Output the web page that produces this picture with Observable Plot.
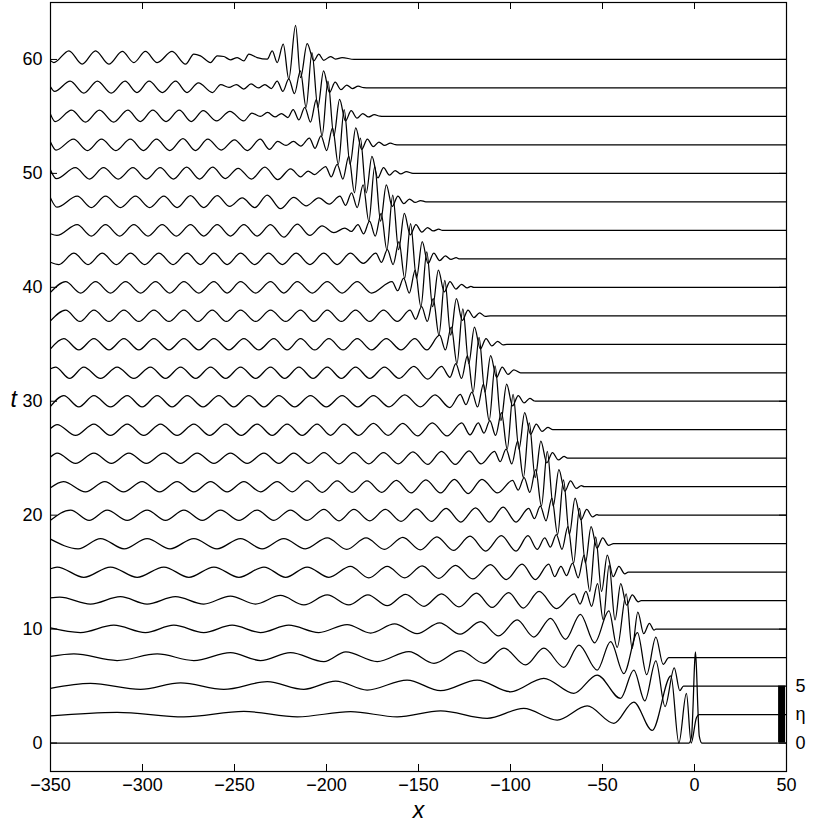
<!DOCTYPE html>
<html><head><meta charset="utf-8">
<script src="https://cdn.jsdelivr.net/npm/d3@7"></script>
<script src="https://cdn.jsdelivr.net/npm/@observablehq/plot@0.6"></script>
<style>body{margin:0;background:#fff}</style>
</head><body><div id="chart"></div>
<script>
// times of the snapshots
const times = [0,2.5,5,7.5,10,12.5,15,17.5,20,22.5,25,27.5,30,32.5,35,37.5,40,42.5,45,47.5,50,52.5,55,57.5,60];
// surface elevation eta(x): [x, eta] at extrema
const eta_t0 = [[-350,0],[-3,0],[-1.6,0.6],[-0.8,3.2],[0,6.8],[0.5,8],[1,6.8],[1.8,3.2],[2.6,0.6],[4,0],[50,0]];
const eta_t2_5 = [[-350,-0.12],[-313.8,0.2],[-277.5,-0.2],[-244.9,0.27],[-215.9,-0.2],[-186.9,0.25],[-161.6,-0.2],[-138,0.33],[-112.7,-0.33],[-92.8,0.54],[-74.6,-0.48],[-58.3,0.75],[-43.8,-0.77],[-33,1.1],[-23,-1.4],[-12.8,3.4],[-8.5,-2.5],[-4.4,1.85],[-1.8,-2.5],[1,-0.3],[2.5,0],[50,0]];
const eta_t5 = [[-350,-0.2],[-328.3,0.24],[-301.1,-0.29],[-279.3,0.29],[-255.8,-0.29],[-232.2,0.38],[-212.3,-0.29],[-195,0.44],[-177.9,-0.35],[-156.2,0.53],[-138,-0.41],[-118.1,0.53],[-100,-0.5],[-81.9,0.68],[-65.6,-0.64],[-52.9,0.97],[-40.2,-1.08],[-33,1.4],[-27,-1.3],[-21,2.2],[-16,-1.8],[-11,1.6],[-8,-0.4],[-6,0],[50,0]];
const eta_t7_5 = [[-350,0.1],[-337.3,0.32],[-313.8,-0.26],[-292,0.32],[-272.1,-0.26],[-252.2,0.44],[-235.9,-0.26],[-219.6,0.44],[-201.4,-0.35],[-189.5,0.5],[-172.4,-0.35],[-155.2,0.53],[-141.6,-0.5],[-127.1,0.62],[-114.5,-0.5],[-103.6,0.82],[-91.8,-0.65],[-81.9,0.82],[-71,-0.85],[-62.8,1.1],[-52.9,-1.1],[-45.6,1.4],[-38.4,-1.4],[-31,2.2],[-26,-1.5],[-21,1.8],[-17,-0.6],[-14,0],[50,0]];
const eta_t10 = [[-350,0.1],[-333.7,-0.3],[-315.6,0.35],[-298.4,-0.3],[-283,0.35],[-266.7,-0.3],[-251.3,0.35],[-235.9,-0.3],[-220.5,0.35],[-204.2,-0.3],[-188.8,0.4],[-176,-0.35],[-163,0.45],[-150.8,-0.4],[-138.5,0.55],[-127.4,-0.45],[-116.3,0.65],[-106.4,-0.6],[-96.4,0.8],[-87.3,-0.7],[-78.2,0.95],[-70.1,-0.9],[-62,1.3],[-54.3,-1.2],[-46.5,1.6],[-42,-1.6],[-37.1,3.1],[-33.9,-1.7],[-30.8,1.5],[-27.6,-0.4],[-24.5,0.5],[-22,-0.1],[-21,0],[50,0]];
const eta_t12_5 = [[-350,0.25],[-345,0.3],[-328.3,-0.3],[-312,0.35],[-297.5,-0.3],[-282.1,0.35],[-266.7,-0.3],[-252.2,0.4],[-238.6,-0.3],[-225,0.45],[-212.3,-0.38],[-199.6,0.5],[-187.9,-0.38],[-177.5,0.5],[-167,-0.45],[-157,0.55],[-147,-0.5],[-137.5,0.6],[-128,-0.55],[-118.5,0.65],[-110,-0.6],[-101,0.7],[-93,-0.65],[-84.5,0.8],[-75,-0.7],[-65.3,0.6],[-62.2,-0.3],[-59,0.8],[-55.9,-0.5],[-52.7,1.5],[-49.6,-1.7],[-46.4,3.1],[-43.2,-1.7],[-40.1,1.5],[-36.9,-0.4],[-33.8,0.5],[-30.6,-0.1],[-29,0],[50,0]];
const eta_t15 = [[-350,0.3],[-346.4,0.45],[-331.9,-0.45],[-317.4,0.45],[-302.9,-0.45],[-288.4,0.45],[-274.8,-0.45],[-261.2,0.45],[-247.6,-0.45],[-234,0.45],[-222.2,-0.45],[-210.5,0.45],[-198.7,-0.45],[-187,0.5],[-177,-0.5],[-167,0.5],[-157.5,-0.5],[-148,0.55],[-139,-0.55],[-129.9,0.6],[-120.5,-0.6],[-110.9,0.65],[-102.3,-0.65],[-93.7,0.7],[-86.5,-0.65],[-79.2,0.7],[-76,-0.4],[-72.6,0.5],[-69.5,-0.3],[-66.3,0.8],[-63.2,-0.5],[-60,1.5],[-56.9,-1.7],[-53.7,3.1],[-50.5,-1.7],[-47.4,1.5],[-44.2,-0.4],[-41.1,0.5],[-37.9,-0.15],[-36,0],[50,0]];
const eta_t17_5 = [[-350,0.4],[-335,-0.45],[-322.8,0.45],[-310,-0.45],[-297.5,0.45],[-285,-0.45],[-272.1,0.45],[-259.5,-0.45],[-246.7,0.45],[-235,-0.45],[-223.2,0.45],[-211.5,-0.45],[-199.6,0.5],[-189,-0.5],[-178.5,0.5],[-168.5,-0.5],[-158.5,0.55],[-149,-0.55],[-140,0.6],[-131,-0.6],[-122,0.65],[-113.5,-0.65],[-105,0.7],[-97,-0.65],[-90.5,0.7],[-85.5,-0.5],[-81.4,0.5],[-78.3,-0.3],[-75.1,0.8],[-72,-0.5],[-68.8,1.5],[-65.7,-1.7],[-62.5,3.1],[-59.3,-1.7],[-56.2,1.5],[-53,-0.4],[-49.9,0.5],[-46.7,-0.15],[-44,0],[50,0]];
const eta_t20 = [[-350,-0.45],[-339.1,0.45],[-329,-0.45],[-319.2,0.45],[-308.3,-0.45],[-297.5,0.45],[-287.5,-0.45],[-277.5,0.45],[-267.5,-0.45],[-257.6,0.45],[-247.6,-0.45],[-237.7,0.45],[-228.6,-0.45],[-219.6,0.45],[-210.5,-0.45],[-201.4,0.5],[-193.2,-0.5],[-185.1,0.5],[-176.5,-0.5],[-168,0.5],[-159.5,-0.55],[-151,0.55],[-143,-0.55],[-135,0.6],[-127,-0.6],[-119,0.65],[-111.5,-0.6],[-104,0.7],[-97,-0.6],[-90.1,0.6],[-87,-0.3],[-83.8,0.8],[-80.7,-0.5],[-77.5,1.5],[-74.4,-1.7],[-71.2,3.1],[-68,-1.7],[-64.9,1.5],[-61.7,-0.4],[-58.6,0.5],[-55.4,-0.15],[-53,0.05],[-52,0],[50,0]];
const eta_t22_5 = [[-350,-0.1],[-343,0.45],[-331,-0.45],[-320.5,0.45],[-310.3,-0.45],[-300.2,0.45],[-290.7,-0.45],[-281.2,0.45],[-272.1,-0.45],[-263,0.45],[-254,-0.45],[-244.9,0.45],[-235.9,-0.45],[-226.8,0.45],[-218.6,-0.45],[-210.5,0.5],[-202.3,-0.5],[-194.2,0.5],[-186,-0.5],[-178,0.5],[-170,-0.5],[-162,0.55],[-154,-0.55],[-146,0.6],[-138,-0.55],[-130.5,0.65],[-123,-0.6],[-115.5,0.65],[-107,-0.55],[-98.9,0.55],[-95.8,-0.3],[-92.6,0.8],[-89.5,-0.5],[-86.3,1.5],[-83.2,-1.7],[-80,3.1],[-76.8,-1.7],[-73.7,1.5],[-70.5,-0.4],[-67.4,0.5],[-64.2,-0.15],[-61.5,0.1],[-60,0],[50,0]];
const eta_t25 = [[-350,0.1],[-346.4,0.45],[-336.4,-0.45],[-326.4,0.45],[-316.9,-0.45],[-307.4,0.45],[-297.9,-0.45],[-288.4,0.45],[-279.3,-0.45],[-270.3,0.45],[-261.2,-0.45],[-252.2,0.45],[-243.1,-0.45],[-234,0.45],[-225.9,-0.45],[-217.8,0.45],[-209.6,-0.45],[-201.4,0.5],[-193.2,-0.5],[-185.1,0.5],[-177,-0.5],[-169,0.5],[-161,-0.5],[-153,0.55],[-145,-0.55],[-137.5,0.6],[-130,-0.55],[-122.5,0.65],[-116,-0.5],[-108.7,0.6],[-105.6,-0.3],[-102.4,0.8],[-99.3,-0.5],[-96.1,1.5],[-93,-1.7],[-89.8,3.1],[-86.6,-1.7],[-83.5,1.5],[-80.3,-0.4],[-77.2,0.5],[-74,-0.15],[-70.9,0.15],[-69,0],[50,0]];
const eta_t27_5 = [[-350,0.1],[-346.4,0.45],[-336.4,-0.5],[-326.4,0.5],[-317.4,-0.5],[-308.3,0.5],[-299.3,-0.5],[-290.2,0.5],[-281.2,-0.5],[-272.1,0.5],[-263.5,-0.5],[-254.9,0.5],[-246.3,-0.5],[-237.7,0.5],[-229.5,-0.5],[-221.4,0.5],[-213.2,-0.5],[-205.1,0.5],[-197.8,-0.5],[-190.6,0.5],[-182.5,-0.5],[-174.5,0.55],[-166.5,-0.5],[-158.5,0.55],[-150.5,-0.55],[-142.5,0.6],[-134.5,-0.55],[-126.5,0.6],[-122,-0.45],[-117.5,0.6],[-114.4,-0.3],[-111.2,0.8],[-108.1,-0.5],[-104.9,1.5],[-101.8,-1.7],[-98.6,3.1],[-95.4,-1.7],[-92.3,1.5],[-89.1,-0.4],[-86,0.5],[-82.8,-0.15],[-79.7,0.2],[-77,0],[50,0]];
const eta_t30 = [[-350,-0.45],[-342.8,0.5],[-334.6,-0.5],[-326.4,0.5],[-317.4,-0.5],[-308.3,0.5],[-300.2,-0.5],[-292,0.5],[-283.9,-0.5],[-275.7,0.5],[-267.1,-0.5],[-258.5,0.5],[-250.4,-0.5],[-242.2,0.5],[-234,-0.5],[-225.9,0.5],[-217.3,-0.5],[-208.7,0.5],[-200.1,-0.5],[-191.5,0.5],[-183,-0.5],[-174.5,0.5],[-166,-0.5],[-157.5,0.55],[-149,-0.5],[-141,0.55],[-133,-0.55],[-127.3,0.6],[-124.2,-0.3],[-121,0.8],[-117.9,-0.5],[-114.7,1.5],[-111.6,-1.7],[-108.4,3.1],[-105.2,-1.7],[-102.1,1.5],[-98.9,-0.4],[-95.8,0.5],[-92.6,-0.15],[-89.5,0.25],[-87,0.02],[-86,0],[50,0]];
const eta_t32_5 = [[-350,0.35],[-347.3,0.5],[-339.6,-0.5],[-331.9,0.5],[-322.8,-0.5],[-313.8,0.5],[-304.7,-0.5],[-295.7,0.5],[-287.5,-0.5],[-279.3,0.5],[-271.1,-0.5],[-263,0.5],[-254.8,-0.5],[-246.7,0.5],[-238.5,-0.5],[-230.4,0.5],[-222.7,-0.5],[-215,0.5],[-207.3,-0.5],[-199.6,0.5],[-191.9,-0.5],[-184.2,0.5],[-176.5,-0.5],[-168.5,0.5],[-160.5,-0.5],[-152.5,0.55],[-145,-0.55],[-137.5,0.55],[-132.9,-0.4],[-129.7,0.8],[-126.6,-0.5],[-123.4,1.5],[-120.3,-1.7],[-117.1,3.1],[-113.9,-1.7],[-110.8,1.5],[-107.6,-0.4],[-104.5,0.5],[-101.3,-0.15],[-98.2,0.25],[-94.5,0],[50,0]];
const eta_t35 = [[-350,-0.4],[-342.8,0.5],[-334.6,-0.5],[-326.4,0.5],[-318.2,-0.5],[-310.1,0.5],[-302,-0.5],[-293.8,0.5],[-285.6,-0.5],[-277.5,0.5],[-269.4,-0.5],[-261.2,0.5],[-253,-0.5],[-244.9,0.5],[-236.8,-0.5],[-228.6,0.5],[-221.4,-0.5],[-214.1,0.5],[-206.4,-0.5],[-198.7,0.5],[-191,-0.5],[-183.3,0.5],[-175.5,-0.5],[-167.5,0.5],[-159.5,-0.5],[-152,0.5],[-145.5,-0.5],[-138.5,0.8],[-135.4,-0.5],[-132.2,1.5],[-129.1,-1.7],[-125.9,3.1],[-122.7,-1.7],[-119.6,1.5],[-116.4,-0.4],[-113.3,0.5],[-110.1,-0.15],[-107,0.25],[-104,-0.05],[-102,0],[50,0]];
const eta_t37_5 = [[-350,-0.45],[-341.8,0.5],[-334,-0.5],[-326.4,0.5],[-318.2,-0.5],[-310.1,0.5],[-302,-0.5],[-293.8,0.5],[-285.6,-0.5],[-277.5,0.5],[-269.8,-0.5],[-262.1,0.5],[-254.4,-0.5],[-246.7,0.5],[-238.5,-0.5],[-230.4,0.5],[-222.2,-0.5],[-214.1,0.5],[-206.8,-0.5],[-199.6,0.5],[-191.9,-0.5],[-184.2,0.5],[-176.5,-0.5],[-169,0.5],[-161.5,-0.5],[-154.6,0.5],[-151.5,-0.3],[-148.3,0.8],[-145.2,-0.5],[-142,1.5],[-138.9,-1.7],[-135.7,3.1],[-132.5,-1.7],[-129.4,1.5],[-126.2,-0.4],[-123.1,0.5],[-119.9,-0.15],[-116.8,0.25],[-113.7,-0.05],[-111,0],[50,0]];
const eta_t40 = [[-350,-0.45],[-341.8,0.5],[-333.6,-0.5],[-325.5,0.5],[-317.4,-0.5],[-309.2,0.5],[-301,-0.5],[-292.9,0.5],[-285.2,-0.5],[-277.5,0.5],[-269.4,-0.5],[-261.2,0.5],[-254,-0.5],[-246.7,0.5],[-238.5,-0.5],[-230.4,0.5],[-223.2,-0.5],[-215.9,0.5],[-207.7,-0.5],[-199.6,0.5],[-191.5,-0.5],[-183.3,0.5],[-175.5,-0.5],[-164.4,0.5],[-161.3,-0.3],[-158.1,0.8],[-155,-0.5],[-151.8,1.5],[-148.7,-1.7],[-145.5,3.1],[-142.3,-1.7],[-139.2,1.5],[-136,-0.4],[-132.9,0.5],[-129.7,-0.15],[-126.6,0.25],[-123.5,-0.05],[-121.5,0.08],[-120,0],[50,0]];
const eta_t42_5 = [[-350,-0.3],[-345.5,-0.5],[-337.3,0.5],[-329.6,-0.5],[-321.9,0.5],[-314.2,-0.5],[-306.5,0.5],[-298.8,-0.5],[-291.1,0.5],[-283.4,-0.5],[-275.7,0.5],[-268.5,-0.5],[-261.2,0.5],[-254,-0.5],[-246.7,0.5],[-239,-0.5],[-231.5,0.5],[-224,-0.5],[-216.5,0.5],[-209,-0.5],[-201.5,0.5],[-194.2,-0.5],[-187,0.5],[-180,-0.4],[-173.2,0.5],[-170.1,-0.3],[-166.9,0.8],[-163.8,-0.5],[-160.6,1.5],[-157.5,-1.7],[-154.3,3.1],[-151.1,-1.7],[-148,1.5],[-144.8,-0.4],[-141.7,0.5],[-138.5,-0.15],[-135.4,0.25],[-132.3,-0.05],[-129.5,0.1],[-128,0],[50,0]];
const eta_t45 = [[-350,-0.3],[-346.5,-0.45],[-335.5,0.5],[-327.8,-0.5],[-320.1,0.5],[-312.4,-0.5],[-304.7,0.5],[-297,-0.5],[-289.3,0.5],[-281.6,-0.5],[-273.9,0.5],[-266.7,-0.5],[-259.4,0.5],[-252.2,-0.5],[-244.9,0.5],[-237.7,-0.5],[-230.4,0.5],[-223.2,-0.6],[-215.9,0.55],[-209,-0.45],[-202.4,0.4],[-196,-0.2],[-190,0.2],[-186.5,-0.1],[-182.9,0.5],[-179.8,-0.3],[-176.6,0.8],[-173.5,-0.5],[-170.3,1.5],[-167.2,-1.7],[-164,3.1],[-160.8,-1.7],[-157.7,1.5],[-154.5,-0.4],[-151.4,0.5],[-148.2,-0.15],[-145.1,0.25],[-142,-0.05],[-139,0.1],[-137,0],[50,0]];
const eta_t47_5 = [[-350,0.35],[-346.5,-0.47],[-335.5,0.5],[-327.8,-0.5],[-320.1,0.5],[-312,-0.5],[-303.8,0.5],[-296.1,-0.5],[-288.4,0.5],[-281.2,-0.5],[-273.9,0.55],[-266.7,-0.5],[-259.4,0.55],[-252.6,-0.4],[-245.8,0.35],[-239,-0.5],[-232.2,0.6],[-225,-0.6],[-217.8,0.4],[-211,-0.35],[-204.2,0.35],[-198.5,-0.2],[-192.7,0.5],[-189.6,-0.3],[-186.4,0.8],[-183.3,-0.5],[-180.1,1.5],[-177,-1.7],[-173.8,3.1],[-170.6,-1.7],[-167.5,1.5],[-164.3,-0.4],[-161.2,0.5],[-158,-0.15],[-154.9,0.25],[-151.8,-0.05],[-148.8,0.12],[-146,0],[50,0]];
const eta_t50 = [[-350,0.3],[-346.8,-0.47],[-336.5,0.5],[-328.8,-0.5],[-321.2,0.5],[-313.2,-0.5],[-305.2,0.5],[-297.8,-0.5],[-290.4,0.5],[-283.2,-0.5],[-276,0.55],[-269,-0.5],[-261.9,0.55],[-255,-0.45],[-248,0.45],[-240.8,-0.5],[-233.5,0.55],[-226.5,-0.55],[-219.5,0.4],[-214,-0.3],[-210,0.2],[-206.5,-0.1],[-203.5,0.25],[-200.5,0.6],[-197.4,-0.3],[-194.2,0.8],[-191.1,-0.5],[-187.9,1.5],[-184.8,-1.7],[-181.6,3.1],[-178.4,-1.7],[-175.3,1.5],[-172.1,-0.4],[-169,0.5],[-165.8,-0.15],[-162.7,0.25],[-159.6,-0.05],[-156.6,0.15],[-153,0],[50,0]];
const eta_t52_5 = [[-350,0.25],[-347,-0.45],[-337.5,0.5],[-329.9,-0.5],[-322.3,0.5],[-314.5,-0.5],[-306.6,0.5],[-299.5,-0.5],[-292.4,0.5],[-285.2,-0.5],[-278,0.55],[-271.2,-0.5],[-264.5,0.5],[-257.2,-0.45],[-250,0.45],[-243,-0.5],[-236,0.5],[-231,-0.4],[-226.5,0.3],[-222,-0.05],[-218,0.3],[-214,-0.1],[-209.3,0.6],[-206.2,-0.3],[-203,0.8],[-199.9,-0.5],[-196.7,1.5],[-193.6,-1.7],[-190.4,3.1],[-187.2,-1.7],[-184.1,1.5],[-180.9,-0.4],[-177.8,0.5],[-174.6,-0.15],[-171.5,0.25],[-168.4,-0.05],[-165.3,0.15],[-162.5,0.02],[-161,0],[50,0]];
const eta_t55 = [[-350,0.2],[-347.5,-0.45],[-338.5,0.55],[-331,-0.5],[-323.4,0.55],[-315.7,-0.5],[-308,0.55],[-301.2,-0.45],[-294.4,0.55],[-287.2,-0.45],[-280,0.55],[-273.5,-0.45],[-267,0.5],[-259.7,-0.4],[-252.5,0.45],[-245,-0.4],[-240.5,0.3],[-236,0],[-232,0.35],[-228,-0.05],[-224.5,0.25],[-221,-0.1],[-218.1,0.6],[-215,-0.3],[-211.8,0.8],[-208.7,-0.5],[-205.5,1.5],[-202.4,-1.7],[-199.2,3.1],[-196,-1.7],[-192.9,1.5],[-189.7,-0.4],[-186.6,0.5],[-183.4,-0.15],[-180.3,0.25],[-177.2,-0.05],[-174,0.15],[-171,0.02],[-169,0],[50,0]];
const eta_t57_5 = [[-350,0.1],[-347.8,-0.3],[-339.3,0.6],[-331.9,-0.45],[-324.5,0.6],[-317,-0.45],[-309.5,0.6],[-303,-0.4],[-296.4,0.6],[-289.2,-0.4],[-282,0.6],[-275.8,-0.4],[-269.6,0.45],[-262,-0.4],[-257.5,0.3],[-253,0.05],[-249,0.3],[-245,-0.1],[-241,0.35],[-237,0],[-233.5,0.3],[-230,-0.05],[-226.8,0.6],[-223.7,-0.3],[-220.5,0.8],[-217.4,-0.5],[-214.2,1.5],[-211.1,-1.7],[-207.9,3.1],[-204.7,-1.7],[-201.6,1.5],[-198.4,-0.4],[-195.3,0.5],[-192.1,-0.15],[-189,0.25],[-185.9,-0.05],[-182.8,0.15],[-179.8,0.02],[-177,0],[50,0]];
const eta_t60 = [[-350,-0.1],[-348.2,-0.27],[-340,0.76],[-332.8,-0.41],[-325.5,0.76],[-318.3,-0.41],[-311,0.7],[-304.7,-0.27],[-298.4,0.7],[-292,-0.27],[-283.9,0.7],[-276.6,-0.41],[-272.1,0.47],[-268.5,0.32],[-263,-0.27],[-259.4,0.32],[-255.8,0.26],[-252.2,-0.03],[-248.5,0.17],[-244.9,-0.12],[-242.2,0.47],[-237.7,0.17],[-232.2,0.03],[-229.5,0.76],[-226.8,-0.27],[-223.5,1.34],[-220.5,-1.73],[-216.8,3.0],[-214.1,-1.59],[-210.5,1.4],[-206.9,-0.12],[-204.2,0.47],[-201.5,-0.07],[-197.8,0.26],[-195.1,0.03],[-191.5,0.17],[-185,0],[50,0]];

const traces = [eta_t0,eta_t2_5,eta_t5,eta_t7_5,eta_t10,eta_t12_5,eta_t15,eta_t17_5,eta_t20,eta_t22_5,eta_t25,eta_t27_5,eta_t30,eta_t32_5,eta_t35,eta_t37_5,eta_t40,eta_t42_5,eta_t45,eta_t47_5,eta_t50,eta_t52_5,eta_t55,eta_t57_5,eta_t60];

// axes
const xTicks = [-350,-300,-250,-200,-150,-100,-50,0,50];
const tTicks = [0,10,20,30,40,50,60];
// eta scale bar (0 to 5) and its labels
const etaBar = [0,5];
const etaBarLabels = [{v:5,s:"5"},{v:2.5,s:"η"},{v:0,s:"0"}];

const rows = traces.flatMap((tr,i)=>tr.map(([x,e])=>({t:times[i], x, y:times[i]+e})));

const X0 = -350, X1 = 50, Y0 = -2.5, Y1 = 65;
const tickLenX = 7/1.84, tickLenY = 7/11.39;

const chart = Plot.plot({
  width: 816, height: 838,
  marginLeft: 50, marginRight: 30, marginTop: 2, marginBottom: 67,
  x: {domain: [X0, X1]},
  y: {domain: [Y0, Y1]},
  style: {fontFamily: "'Liberation Sans', Arial, Helvetica, sans-serif", fontSize: "18px", background: "#fff", color: "#000"},
  marks: [
    Plot.line(rows, {x: "x", y: "y", z: "t", curve: "monotone-x", stroke: "#000", strokeWidth: 1.25, clip: true}),
    Plot.rect([etaBar], {x1: 45.7, x2: 49.5, y1: d => d[0], y2: d => d[1], fill: "#000"}),
    Plot.ruleX(xTicks, {y1: Y0, y2: Y0 + tickLenY, stroke: "#000"}),
    Plot.ruleX(xTicks, {y1: Y1, y2: Y1 - tickLenY, stroke: "#000"}),
    Plot.ruleY(tTicks, {x1: X0, x2: X0 + tickLenX, stroke: "#000"}),
    Plot.ruleY(tTicks, {x1: X1, x2: X1 - tickLenX, stroke: "#000"}),
    Plot.frame({stroke: "#000", strokeWidth: 1.2}),
    Plot.axisX(xTicks, {tickSize: 0, tickPadding: 7, fontSize: 18, label: null}),
    Plot.axisY(tTicks, {tickSize: 0, tickPadding: 8, fontSize: 18, label: null}),
    Plot.text(etaBarLabels, {x: X1, y: "v", text: "s", dx: 14, fontSize: 18, textAnchor: "middle", clip: false}),
    Plot.text(["x"], {frameAnchor: "bottom", dy: 46, fontSize: 23, fontStyle: "italic", text: d => d}),
    Plot.text(["t"], {frameAnchor: "left", dx: -40, dy: 13, fontSize: 23, fontStyle: "italic", text: d => d})
  ]
});
document.getElementById("chart").appendChild(chart);
</script>
</body></html>
